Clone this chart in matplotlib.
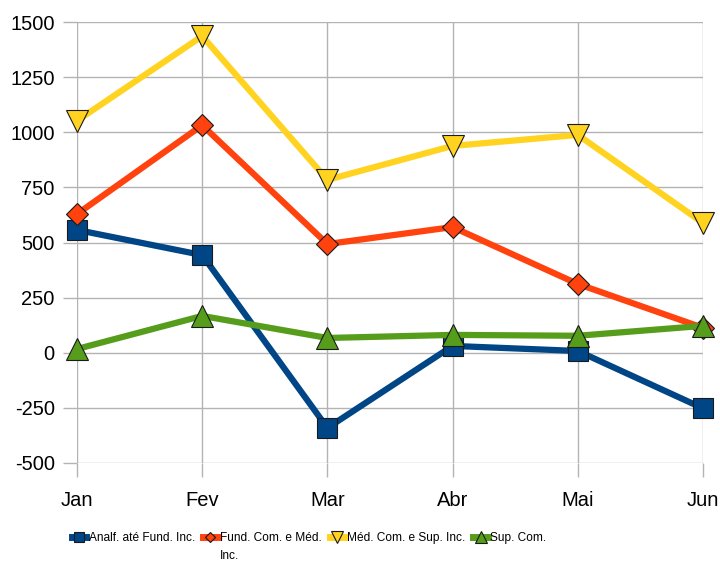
import matplotlib.pyplot as plt
import numpy as np

plt.rcParams['font.family'] = ['Liberation Sans', 'DejaVu Sans']
plt.rcParams['axes.unicode_minus'] = False

months = ['Jan', 'Fev', 'Mar', 'Abr', 'Mai', 'Jun']
analf = [557, 443, -341, 31, 8, -252]
fund = [629, 1032, 493, 570, 312, 113]
med = [1052, 1436, 784, 938, 988, 589]
sup = [17, 167, 67, 81, 77, 122]

series = [
    ('Analf. até Fund. Inc.', analf, '#004586', 's', 15),
    ('Fund. Com. e Méd.', fund, '#ff420e', 'D', 11),
    ('Méd. Com. e Sup. Inc.', med, '#ffd320', 'v', 16),
    ('Sup. Com.', sup, '#579d1c', '^', 16),
]

fig = plt.figure(figsize=(7.2, 5.62), dpi=100)
ax = fig.add_axes([77 / 720, 1 - 463 / 562, 626 / 720, 441 / 562])

x = np.arange(len(months))
for label, vals, color, marker, ms in series:
    ax.plot(x, vals, color=color, lw=4.5, marker=marker, ms=ms,
            markeredgecolor='#1a1a1a', markeredgewidth=0.8, label=label,
            clip_on=False, zorder=3)

ax.set_xlim(0, len(months) - 1)
ax.set_ylim(-500, 1500)
ax.set_yticks(np.arange(-500, 1501, 250))
ax.set_xticks(x)
ax.set_xticklabels(months)
ax.grid(True, color='#b3b3b3', lw=1)
ax.set_axisbelow(True)
for s in ax.spines.values():
    s.set_visible(False)
ax.tick_params(axis='both', colors='#b3b3b3', length=10, width=1,
               labelcolor='black', labelsize=14.5)
ax.tick_params(axis='x', pad=10)
ax.tick_params(axis='y', pad=6)

leg = fig.legend(loc='center left', bbox_to_anchor=(66 / 720, 1 - 538 / 562),
                 ncol=4, frameon=False, fontsize=8.6, handlelength=1.2,
                 handletextpad=0.2, columnspacing=0.7, borderpad=0,
                 markerscale=0.5)
for h in leg.legend_handles:
    h.set_linewidth(5)

# second legend label wraps onto a second line
fig.canvas.draw()
bb = leg.get_texts()[1].get_window_extent().transformed(fig.transFigure.inverted())
fig.text(bb.x0, bb.y0 - 0.01, 'Inc.', fontsize=8.6, va='top', ha='left')

fig.savefig('out.png', dpi=100)
